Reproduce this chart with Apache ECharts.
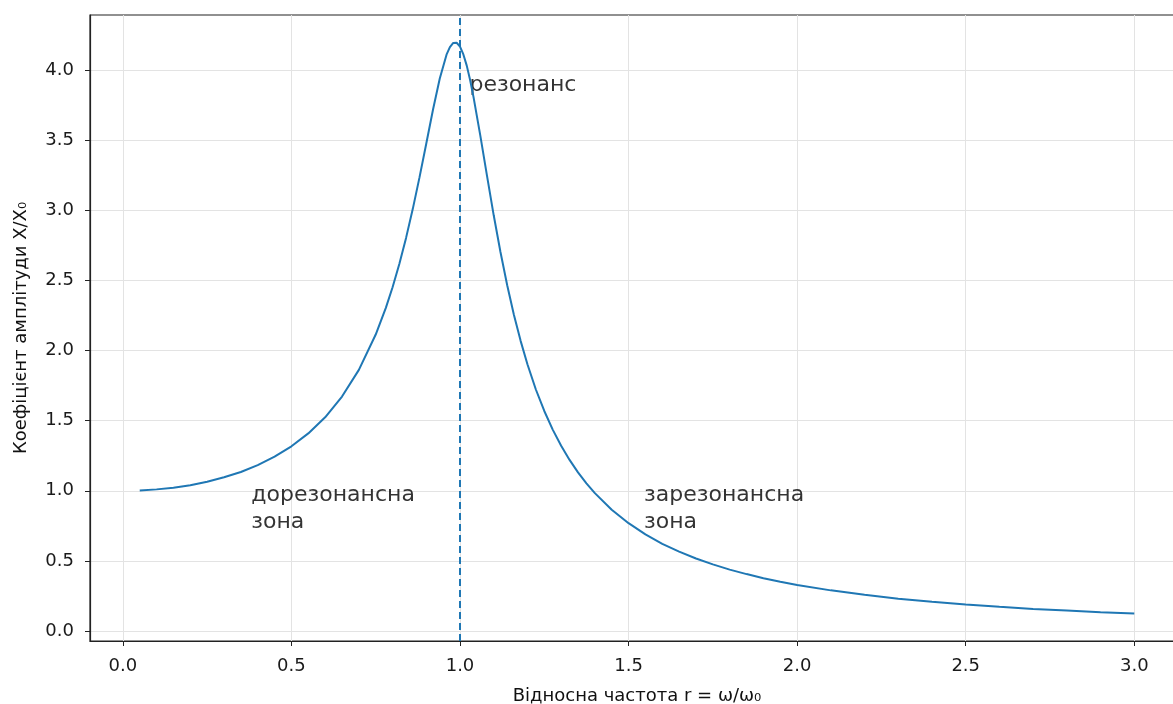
<!DOCTYPE html>
<html>
<head>
<meta charset="utf-8">
<script src="https://cdn.jsdelivr.net/npm/echarts@6/dist/echarts.min.js"></script>
<style>
html,body{margin:0;padding:0;background:#fff}
#chart{width:1173px;height:704px}
</style>
</head>
<body>
<div id="chart"></div>
<script>
// відносна частота r та коефіцієнт X/X0
var rVals = [0.05, 0.1, 0.15, 0.2, 0.25, 0.3, 0.35, 0.4, 0.45, 0.5, 0.55, 0.6, 0.65, 0.7, 0.75, 0.78,
	0.8, 0.82, 0.84, 0.86, 0.88, 0.9, 0.92, 0.94, 0.96, 0.97, 0.98, 0.99, 1.0, 1.01, 1.02, 1.03,
	1.04, 1.06, 1.08, 1.1, 1.12, 1.14, 1.16, 1.18, 1.2, 1.225, 1.25, 1.275, 1.3, 1.325, 1.35, 1.375,
	1.4, 1.45, 1.5, 1.55, 1.6, 1.65, 1.7, 1.75, 1.8, 1.85, 1.9, 1.95, 2.0, 2.1, 2.2, 2.3, 2.4,
	2.5, 2.6, 2.7, 2.8, 2.9, 3.0];
var ampVals = [1.002, 1.010, 1.022, 1.040, 1.065, 1.096, 1.134, 1.183, 1.243, 1.317, 1.409, 1.524, 1.672, 1.862, 2.114, 2.304,
	2.451, 2.617, 2.803, 3.010, 3.236, 3.476, 3.718, 3.939, 4.109, 4.163, 4.193, 4.194, 4.167, 4.111, 4.031, 3.928,
	3.808, 3.536, 3.247, 2.964, 2.702, 2.465, 2.253, 2.067, 1.902, 1.722, 1.569, 1.436, 1.321, 1.220, 1.131, 1.053,
	0.983, 0.865, 0.769, 0.689, 0.622, 0.566, 0.517, 0.475, 0.438, 0.406, 0.377, 0.352, 0.329, 0.290, 0.258, 0.231, 0.209,
	0.189, 0.173, 0.158, 0.146, 0.134, 0.125];

var xTicks = [0, 0.5, 1.0, 1.5, 2.0, 2.5, 3.0];
var yTicks = [0, 0.5, 1.0, 1.5, 2.0, 2.5, 3.0, 3.5, 4.0];

var resonanceR = 1.0;
var noteText = ['резонанс', 'дорезонансна\nзона', 'зарезонансна\nзона'];
var noteX = [1.028, 0.381, 1.546];
var noteY = [3.89, 0.875, 0.875];

var font = 'DejaVu Sans';
var blue = '#1f77b4';

var chart = echarts.init(document.getElementById('chart'));

var lineData = [];
for (var i = 0; i < rVals.length; i++) {
	lineData.push([rVals[i], ampVals[i]]);
}
var notes = [];
for (var j = 0; j < noteText.length; j++) {
	notes.push({value: [noteX[j], noteY[j]], name: noteText[j]});
}

var option = {
	animation: false,
	backgroundColor: '#fff',
	grid: {
		show: true,
		left: 90,
		top: 15,
		width: 1094,
		height: 626,
		outerBoundsMode: 'none',
		borderColor: '#222',
		borderWidth: 1.2,
		backgroundColor: 'transparent'
	},
	xAxis: {
		type: 'value',
		min: -0.0975,
		max: 3.1475,
		name: 'Відносна частота r = ω/ω₀',
		nameLocation: 'middle',
		nameGap: 46,
		nameTextStyle: {fontFamily: font, fontSize: 18, color: '#111'},
		axisLine: {show: true, onZero: false, lineStyle: {color: '#222', width: 1.2}},
		axisTick: {show: true, length: 5, customValues: xTicks, lineStyle: {color: '#222'}},
		axisLabel: {
			customValues: xTicks,
			margin: 16,
			fontFamily: font,
			fontSize: 18,
			color: '#1a1a1a',
			formatter: function (v) { return v.toFixed(1); }
		},
		splitLine: {show: true, lineStyle: {color: '#e3e3e3', width: 1}}
	},
	yAxis: {
		type: 'value',
		min: -0.071,
		max: 4.392,
		name: 'Коефіцієнт амплітуди X/X₀',
		nameLocation: 'middle',
		nameGap: 60,
		nameTextStyle: {fontFamily: font, fontSize: 18, color: '#111'},
		axisLine: {show: true, onZero: false, lineStyle: {color: '#222', width: 1.2}},
		axisTick: {show: true, length: 5, customValues: yTicks, lineStyle: {color: '#222'}},
		axisLabel: {
			customValues: yTicks,
			margin: 16,
			fontFamily: font,
			fontSize: 18,
			color: '#1a1a1a',
			formatter: function (v) { return v.toFixed(1); }
		},
		splitLine: {show: true, lineStyle: {color: '#e3e3e3', width: 1}}
	},
	series: [
		{
			type: 'line',
			data: lineData,
			showSymbol: false,
			smooth: false,
			lineStyle: {color: blue, width: 2},
			silent: true,
			markLine: {
				silent: true,
				symbol: 'none',
				label: {show: false},
				lineStyle: {color: blue, width: 2, type: [7, 4]},
				data: [{xAxis: resonanceR}]
			}
		},
		{
			type: 'scatter',
			data: notes,
			symbolSize: 0,
			itemStyle: {color: '#000'},
			silent: true,
			label: {
				show: true,
				position: 'right',
				distance: 0,
				formatter: function (p) { return p.name; },
				fontFamily: font,
				fontSize: 22,
				lineHeight: 27,
				color: '#000'
			}
		}
	]
};
chart.setOption(option);
</script>
</body>
</html>
